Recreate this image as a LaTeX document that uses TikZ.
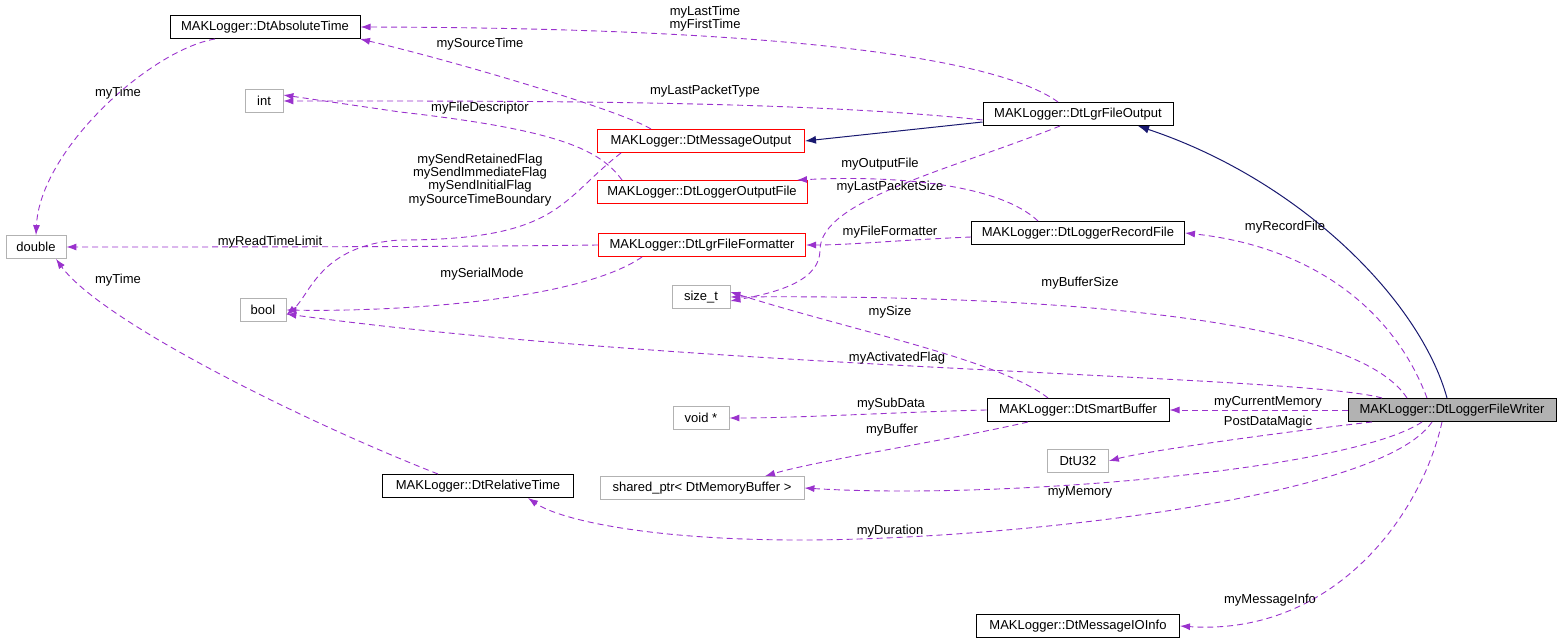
\documentclass[tikz,border=0pt]{standalone}
\usepackage{fontspec}
\setmainfont{Liberation Sans}
\usetikzlibrary{arrows.meta}
\definecolor{ep}{HTML}{9A32CD}
\definecolor{nv}{HTML}{191970}
\begin{document}
\begin{tikzpicture}[x=1pt,y=-1pt,
  every node/.style={font=\fontsize{13}{14}\selectfont, inner sep=0pt},
  box/.style={draw=black, line width=1pt, minimum height=23pt, fill=white},
  gbox/.style={draw=gray!60, line width=0.8pt, minimum height=23pt, fill=white},
  rbox/.style={draw=red, line width=1pt, minimum height=23pt, fill=white},
  dep/.style={draw=ep, line width=0.9pt, dash pattern=on 6pt off 4pt, -{Latex[length=10pt,width=7pt,fill=ep]}},
  inh/.style={draw=nv, line width=1pt, -{Latex[length=11pt,width=8pt]}},
  lab/.style={align=center, font=\fontsize{13}{12}\selectfont}]
\useasboundingbox (0,0) rectangle (1563,644);
\node[box, minimum width=190pt] (abs) at (265,27) {MAKLogger::DtAbsoluteTime};
\node[gbox, minimum width=38pt] (int) at (264,101) {int};
\node[rbox, minimum width=207pt] (mo) at (701,141) {MAKLogger::DtMessageOutput};
\node[box, minimum width=190pt] (lfo) at (1078,114) {MAKLogger::DtLgrFileOutput};
\node[rbox, minimum width=210pt] (lof) at (702,192) {MAKLogger::DtLoggerOutputFile};
\node[gbox, minimum width=60pt] (dbl) at (36,247) {double};
\node[rbox, minimum width=207pt] (lff) at (702,245) {MAKLogger::DtLgrFileFormatter};
\node[box, minimum width=213pt] (lrf) at (1078,233) {MAKLogger::DtLoggerRecordFile};
\node[gbox, minimum width=46pt] (bool) at (263,310) {bool};
\node[gbox, minimum width=58pt] (sz) at (701,297) {size\_t};
\node[gbox, minimum width=56pt] (void) at (701,418) {void *};
\node[box, minimum width=182pt] (sb) at (1078,410) {MAKLogger::DtSmartBuffer};
\node[box, minimum width=208pt, fill=gray!60] (fw) at (1452,410) {MAKLogger::DtLoggerFileWriter};
\node[gbox, minimum width=61pt] (u32) at (1078,461) {DtU32};
\node[box, minimum width=191pt] (rt) at (478,486) {MAKLogger::DtRelativeTime};
\node[gbox, minimum width=204pt] (sp) at (702,488) {shared\_ptr< DtMemoryBuffer >};
\node[box, minimum width=203pt] (mio) at (1078,626) {MAKLogger::DtMessageIOInfo};

% inheritance
\draw[inh] (lfo.west|-0,122) -- (mo.east);
\draw[inh] ([xshift=-5pt]fw.north) .. controls (1420,300) and (1300,180) .. ([xshift=60pt]lfo.south);

% dependencies
\draw[dep] ([xshift=-20pt]lfo.north) .. controls (1000,60) and (800,28) .. (abs.east);
\node[lab] at (705,19) {myLastTime\\myFirstTime};
\draw[dep] ([xshift=-50pt]mo.north) .. controls (620,110) and (450,60) .. ([xshift=95pt]abs.south);
\node[lab] at (480,44) {mySourceTime};
\draw[dep] ([xshift=-50pt]abs.south) .. controls (150,50) and (40,150) .. (dbl.north);
\node[lab] at (118,93) {myTime};
\draw[dep] ([yshift=-6pt]lfo.west) .. controls (800,100) and (500,101) .. (int.east);
\node[lab] at (705,91) {myLastPacketType};
\draw[dep] ([xshift=-80pt]lof.north) .. controls (600,150) and (560,130) .. (400,112) -- ([yshift=6pt]int.east);
\node[lab] at (480,108) {myFileDescriptor};
\draw[dep] ([xshift=-80pt]mo.south) .. controls (560,200) and (560,240) .. (400,240) .. controls (320,245) and (310,295) .. ([yshift=-5pt]bool.east);
\node[lab] at (480,180) {mySendRetainedFlag\\mySendImmediateFlag\\mySendInitialFlag\\mySourceTimeBoundary};
\draw[dep] (lff.west) .. controls (450,247) and (200,247) .. (dbl.east);
\node[lab] at (270,242) {myReadTimeLimit};
\draw[dep] ([xshift=-60pt]lff.south) .. controls (580,300) and (400,312) .. (bool.east);
\node[lab] at (482,274) {mySerialMode};
\draw[dep] ([xshift=-18pt]lfo.south) .. controls (950,170) and (820,200) .. (820,250) .. controls (820,280) and (780,292) .. ([yshift=-4pt]sz.east);
\node[lab] at (890,187) {myLastPacketSize};
\draw[dep] ([xshift=-40pt]lrf.north) .. controls (1000,185) and (900,175) .. ([xshift=95pt]lof.north);
\node[lab] at (880,164) {myOutputFile};
\draw[dep] (lrf.west|-0,237) .. controls (900,240) and (850,245) .. (lff.east);
\node[lab] at (890,232) {myFileFormatter};
\draw[dep] ([xshift=-25pt]fw.north) .. controls (1390,300) and (1300,245) .. (lrf.east);
\node[lab] at (1285,227) {myRecordFile};
\draw[dep] ([xshift=-45pt]fw.north) .. controls (1350,310) and (1000,295) .. (sz.east);
\node[lab] at (1080,283) {myBufferSize};
\draw[dep] ([xshift=-30pt]sb.north) .. controls (1000,360) and (850,330) .. ([yshift=5pt]sz.east);
\node[lab] at (890,312) {mySize};
\draw[dep] ([xshift=-70pt]fw.north) .. controls (1300,375) and (700,370) .. (bool.east|-0,314);
\node[lab] at (897,358) {myActivatedFlag};
\draw[dep] ([xshift=-40pt]rt.north) .. controls (300,420) and (100,320) .. ([xshift=20pt]dbl.south);
\node[lab] at (118,280) {myTime};
\draw[dep] (sb.west) .. controls (900,412) and (800,418) .. (void.east);
\node[lab] at (891,404) {mySubData};
\draw[dep] (fw.west) -- (sb.east);
\node[lab] at (1268,402) {myCurrentMemory};
\draw[dep] ([xshift=-50pt]sb.south) .. controls (950,440) and (820,460) .. ([xshift=63pt]sp.north);
\node[lab] at (892,430) {myBuffer};
\draw[dep] ([xshift=-80pt]fw.south) .. controls (1300,430) and (1150,450) .. (u32.east);
\node[lab] at (1268,422) {PostDataMagic};
\draw[dep] ([xshift=-30pt]fw.south) .. controls (1350,470) and (1000,500) .. (sp.east);
\node[lab] at (1080,492) {myMemory};
\draw[dep] ([xshift=-20pt]fw.south) .. controls (1380,500) and (1000,540) .. (800,540) .. controls (650,540) and (560,520) .. ([xshift=50pt]rt.south);
\node[lab] at (890,531) {myDuration};
\draw[dep] ([xshift=-10pt]fw.south) .. controls (1420,520) and (1330,636) .. (mio.east);
\node[lab] at (1270,600) {myMessageInfo};
\end{tikzpicture}
\end{document}
